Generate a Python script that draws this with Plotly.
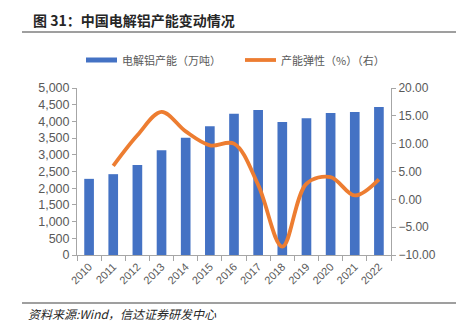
import plotly.graph_objects as go

years = ["2010", "2011", "2012", "2013", "2014", "2015", "2016",
         "2017", "2018", "2019", "2020", "2021", "2022"]
capacity = [2280, 2420, 2695, 3135, 3510, 3855, 4230, 4340, 3980, 4095, 4250, 4280, 4430]
elasticity = [None, 6.0, 11.5, 15.7, 12.2, 9.7, 10.0, 2.6, -8.5, 2.8, 4.0, 0.7, 3.6]

bar_name = "电解铝产能（万吨）"
line_name = "产能弹性（%）（右）"
title_text = "<b>图 31：中国电解铝产能变动情况</b>"
source_text = "<i>资料来源:Wind，信达证券研发中心</i>"

BLUE = "#4472C4"
ORANGE = "#ED7D31"
GRAY = "#595959"
AXIS = "#A6A6A6"
NUM_FONT = "Liberation Sans, Arial, sans-serif"
CJK_FONT = "Noto Sans CJK SC, sans-serif"

fig = go.Figure()
fig.add_trace(go.Bar(x=years, y=capacity, name=bar_name, marker_color=BLUE,
                     marker_line_width=0, yaxis="y"))
fig.add_trace(go.Scatter(x=years, y=elasticity, name=line_name, mode="lines",
                         line=dict(color=ORANGE, width=3.8, shape="spline", smoothing=1.0),
                         yaxis="y2", connectgaps=False))

W, H = 456, 329
ml, mr, mt, mb = 77, 65, 88, 74

fig.update_layout(
    width=W, height=H,
    margin=dict(l=ml, r=mr, t=mt, b=mb),
    paper_bgcolor="white", plot_bgcolor="white",
    showlegend=False,
    bargap=0.6,
    font=dict(family=NUM_FONT, size=11, color=GRAY),
    xaxis=dict(type="category", showline=True, linecolor=AXIS, linewidth=1,
               ticks="outside", tickson="boundaries", ticklen=5, tickcolor=AXIS,
               tickangle=-45, tickfont=dict(size=11, color=GRAY, family=NUM_FONT),
               showgrid=False),
    yaxis=dict(range=[0, 5000], dtick=500, tickformat=",", showline=True,
               linecolor=AXIS, linewidth=1, ticks="outside", ticklen=4, tickcolor=AXIS,
               showgrid=False, zeroline=False,
               tickfont=dict(size=12.5, color=GRAY, family=NUM_FONT)),
    yaxis2=dict(range=[-10, 20], dtick=5, tickformat=".2f", overlaying="y", side="right",
                showline=True, linecolor=AXIS, linewidth=1, ticks="outside", ticklen=4,
                tickcolor=AXIS, showgrid=False, zeroline=False,
                tickfont=dict(size=12, color=GRAY, family=NUM_FONT)),
)

def px(xp):
    return (xp - ml) / (W - ml - mr)

def py(yp):
    return (H - mb - yp) / (H - mt - mb)

shapes = [
    dict(type="line", xref="paper", yref="paper", x0=px(22), x1=px(456), y0=py(32), y1=py(32),
         line=dict(color="#404040", width=1.2)),
    dict(type="line", xref="paper", yref="paper", x0=px(22), x1=px(456), y0=py(303), y1=py(303),
         line=dict(color="#404040", width=1.2)),
    dict(type="line", xref="paper", yref="paper", x0=px(86), x1=px(117), y0=py(60), y1=py(60),
         line=dict(color=BLUE, width=5)),
    dict(type="line", xref="paper", yref="paper", x0=px(245), x1=px(276), y0=py(60), y1=py(60),
         line=dict(color=ORANGE, width=3.8)),
]
annotations = [
    dict(text=title_text, xref="paper", yref="paper", x=px(31), y=py(20), xanchor="left",
         yanchor="middle", showarrow=False,
         font=dict(family=CJK_FONT, size=14, color="#262626")),
    dict(text=source_text, xref="paper", yref="paper", x=px(26), y=py(313), xanchor="left",
         yanchor="middle", showarrow=False,
         font=dict(family=CJK_FONT, size=12, color="#262626")),
    dict(text=bar_name, xref="paper", yref="paper", x=px(120), y=py(60), xanchor="left",
         yanchor="middle", showarrow=False,
         font=dict(family=CJK_FONT, size=11, color=GRAY)),
    dict(text=line_name, xref="paper", yref="paper", x=px(279), y=py(60), xanchor="left",
         yanchor="middle", showarrow=False,
         font=dict(family=CJK_FONT, size=11, color=GRAY)),
]
fig.update_layout(shapes=shapes, annotations=annotations)

fig.write_html("out.html")
